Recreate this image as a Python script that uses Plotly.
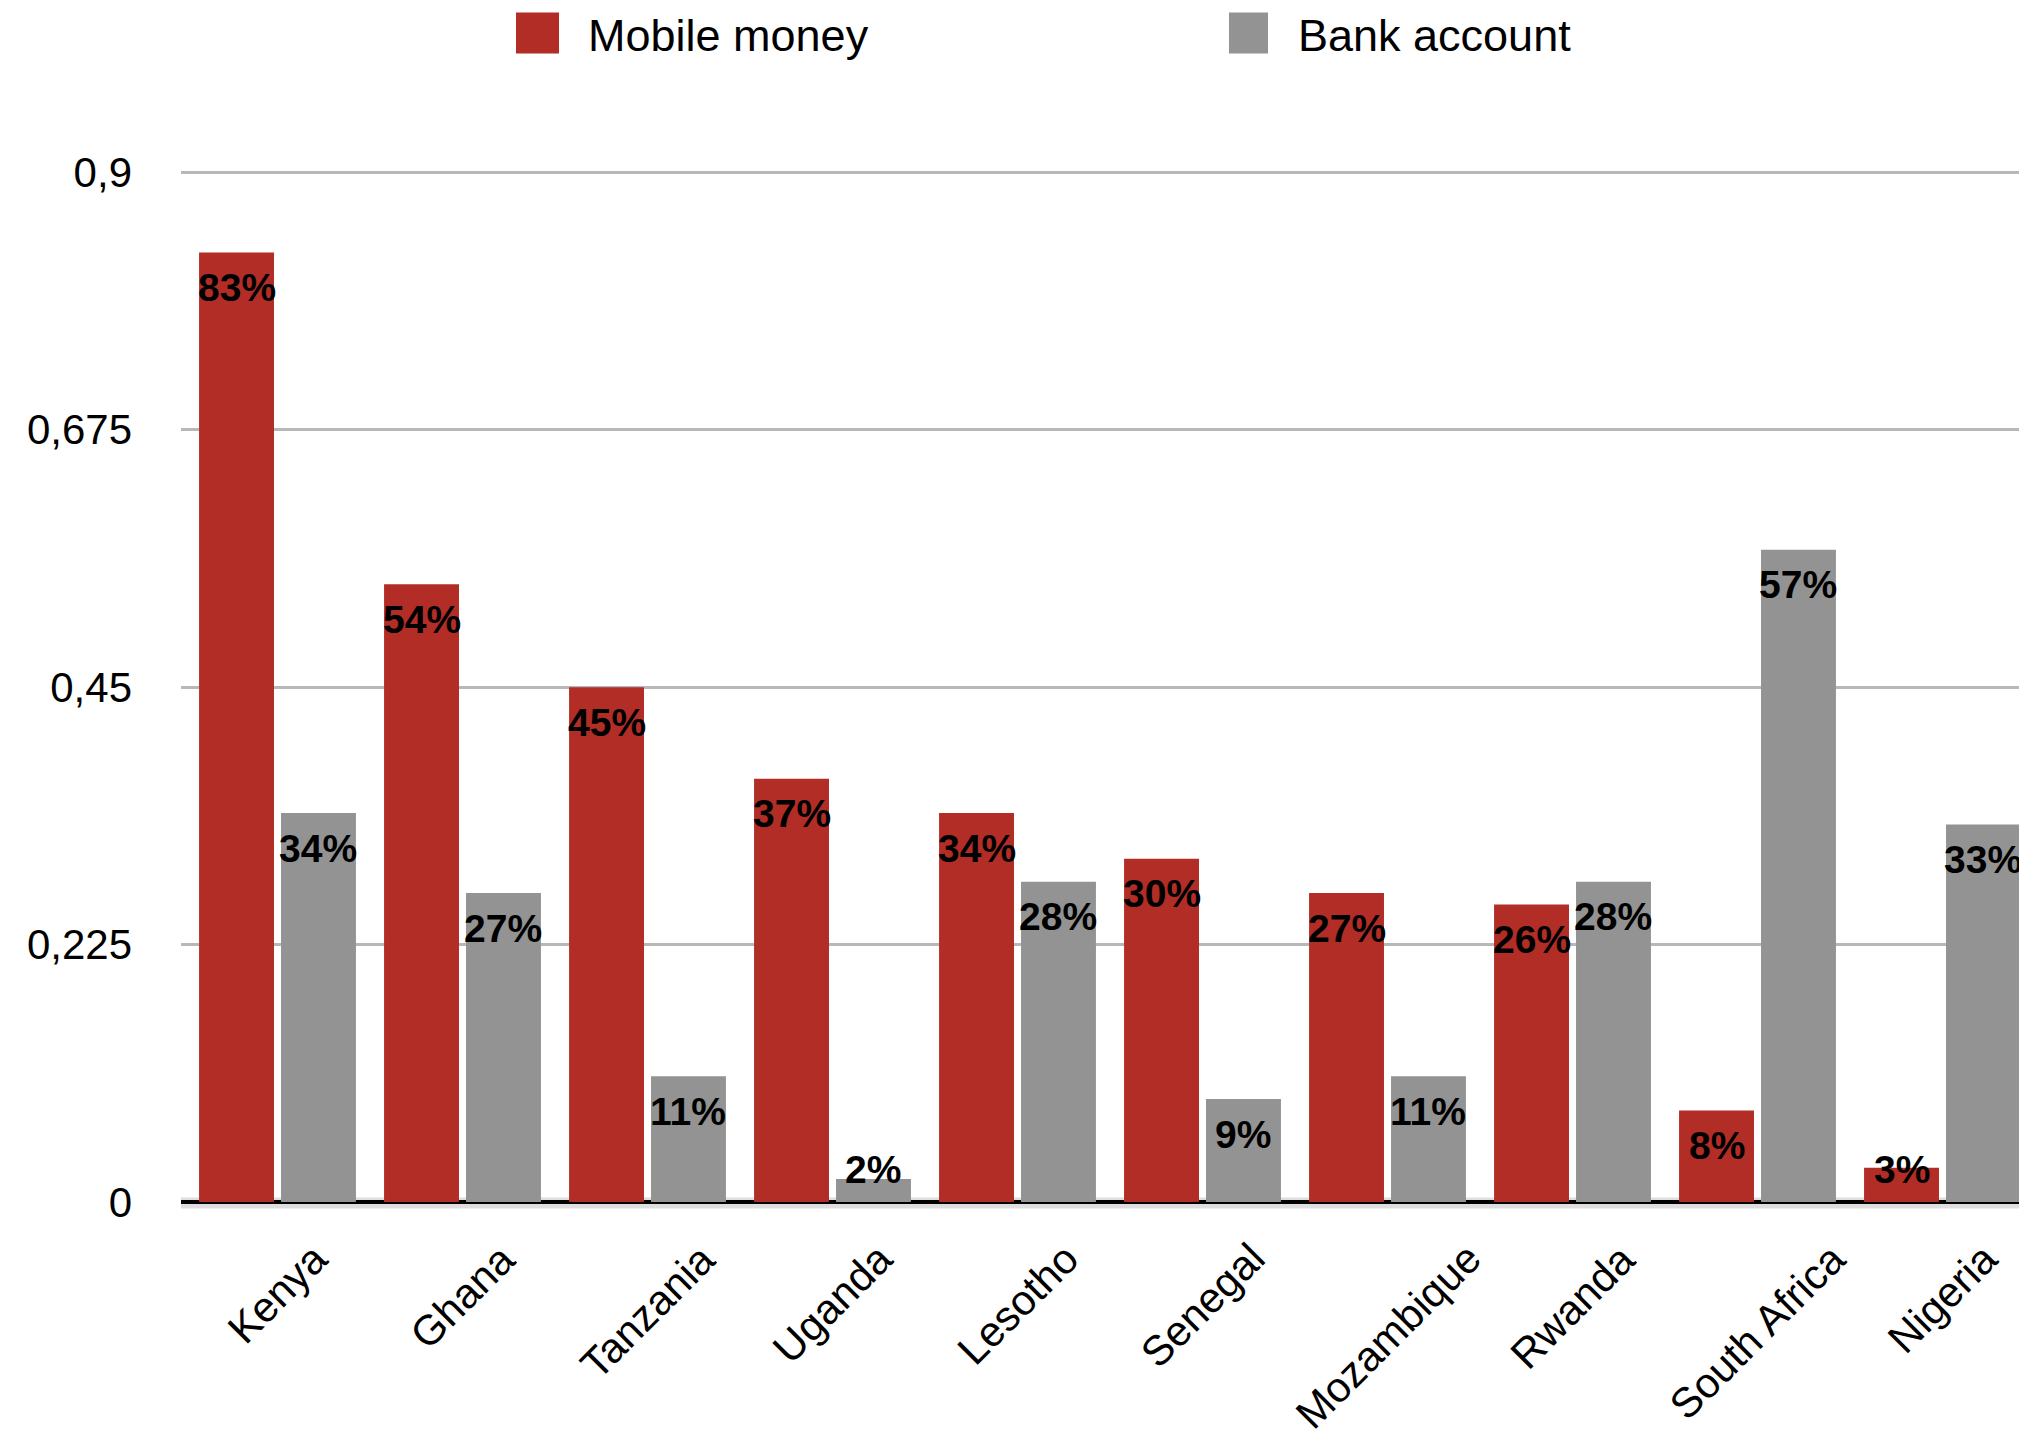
import numpy as np
import plotly.graph_objects as go

# Share of adults using each service, by country
countries = ["Kenya", "Ghana", "Tanzania", "Uganda", "Lesotho",
             "Senegal", "Mozambique", "Rwanda", "South Africa", "Nigeria"]
mobile_money = [0.83, 0.54, 0.45, 0.37, 0.34, 0.30, 0.27, 0.26, 0.08, 0.03]
bank_account = [0.34, 0.27, 0.11, 0.02, 0.28, 0.09, 0.11, 0.28, 0.57, 0.33]

series_names = ["Mobile money", "Bank account"]
y_tickvals = [0, 0.225, 0.45, 0.675, 0.9]
y_ticktext = ["0", "0,225", "0,45", "0,675", "0,9"]

RED = "#B22D26"
GREY = "#939393"
FONT = "Liberation Sans, Arial, Helvetica, sans-serif"

W, H = 2019, 1437
Y_TOP = 0.902
PX_PER_UNIT = 1145.6
M_L, M_R, M_B = 181, 0, 234.5
M_T = 172 - (Y_TOP - 0.9) * PX_PER_UNIT
BAR_W = 0.405
OFFSETS = [-0.424, 0.019]
LABEL_FLOOR = 0.0594  # keeps labels of very short bars above the axis

fig = go.Figure()
for name, vals, col, off in zip(series_names, [mobile_money, bank_account],
                                [RED, GREY], OFFSETS):
    fig.add_trace(go.Bar(
        x=countries, y=vals, name=name, marker=dict(color=col, line=dict(width=0)),
        width=BAR_W, offset=off, showlegend=False,
    ))

annotations = []

# value labels near the top of each bar
for vals, off in zip([mobile_money, bank_account], OFFSETS):
    centers = np.arange(len(countries)) + off + BAR_W / 2
    label_y = np.maximum(np.array(vals), LABEL_FLOOR)
    for cx, ly, v in zip(centers, label_y, vals):
        annotations.append(dict(
            x=float(cx), y=float(ly), xref="x", yref="y",
            text=f"{round(v * 100)}%", showarrow=False,
            xanchor="center", yanchor="middle", yshift=-35,
            font=dict(family=FONT, size=39, color="#000000", weight="bold"),
        ))

# slanted country names, centred under each category
for i, name in enumerate(countries):
    annotations.append(dict(
        x=i, y=0, xref="x", yref="y", text=name, showarrow=False,
        textangle=-45, xanchor="center", yanchor="top", yshift=-30,
        font=dict(family=FONT, size=42, color="#000000"),
    ))

# legend drawn as swatches + labels above the plot
plot_w = W - M_L - M_R
plot_h = H - M_T - M_B


def px_x(X):
    return (X - M_L) / plot_w


def px_y(Y):
    return (H - M_B - Y) / plot_h


shapes = []
legend_items = [(series_names[0], RED, 516, 559, 586),
                (series_names[1], GREY, 1229, 1268, 1296)]
for name, col, x0, x1, tx in legend_items:
    shapes.append(dict(type="rect", xref="paper", yref="paper",
                       x0=px_x(x0), x1=px_x(x1), y0=px_y(53), y1=px_y(12),
                       fillcolor=col, line=dict(width=0)))
    annotations.append(dict(
        x=px_x(tx), y=px_y(35), xref="paper", yref="paper", text=name,
        showarrow=False, xanchor="left", yanchor="middle",
        font=dict(family=FONT, size=45, color="#000000"),
    ))

# soft shadow under the baseline
shapes.append(dict(type="line", xref="paper", yref="paper", layer="below",
                   x0=0, x1=1, y0=px_y(1203.5), y1=px_y(1203.5),
                   line=dict(color="#dedede", width=11)))

x_start = -(277.5 - M_L) / 185
x_end = x_start + plot_w / 185

fig.update_layout(
    width=W, height=H, autosize=False,
    margin=dict(l=M_L, r=M_R, t=M_T, b=M_B, pad=0),
    paper_bgcolor="white", plot_bgcolor="white",
    barmode="overlay", separators=",.",
    font=dict(family=FONT, color="#000000"),
    annotations=annotations, shapes=shapes, showlegend=False,
    xaxis=dict(
        type="category", range=[x_start, x_end], showgrid=False,
        showticklabels=False, ticks="", showline=False, zeroline=False,
    ),
    yaxis=dict(
        range=[0, Y_TOP], tickvals=y_tickvals, ticktext=y_ticktext,
        showgrid=True, gridcolor="#b8b8b8", gridwidth=3,
        zeroline=True, zerolinecolor="#000000", zerolinewidth=3.5,
        tickfont=dict(family=FONT, size=42, color="#000000"),
        ticks="", ticklabelstandoff=48, showline=False,
    ),
)

fig.write_html("out.html", config=dict(displayModeBar=False))
